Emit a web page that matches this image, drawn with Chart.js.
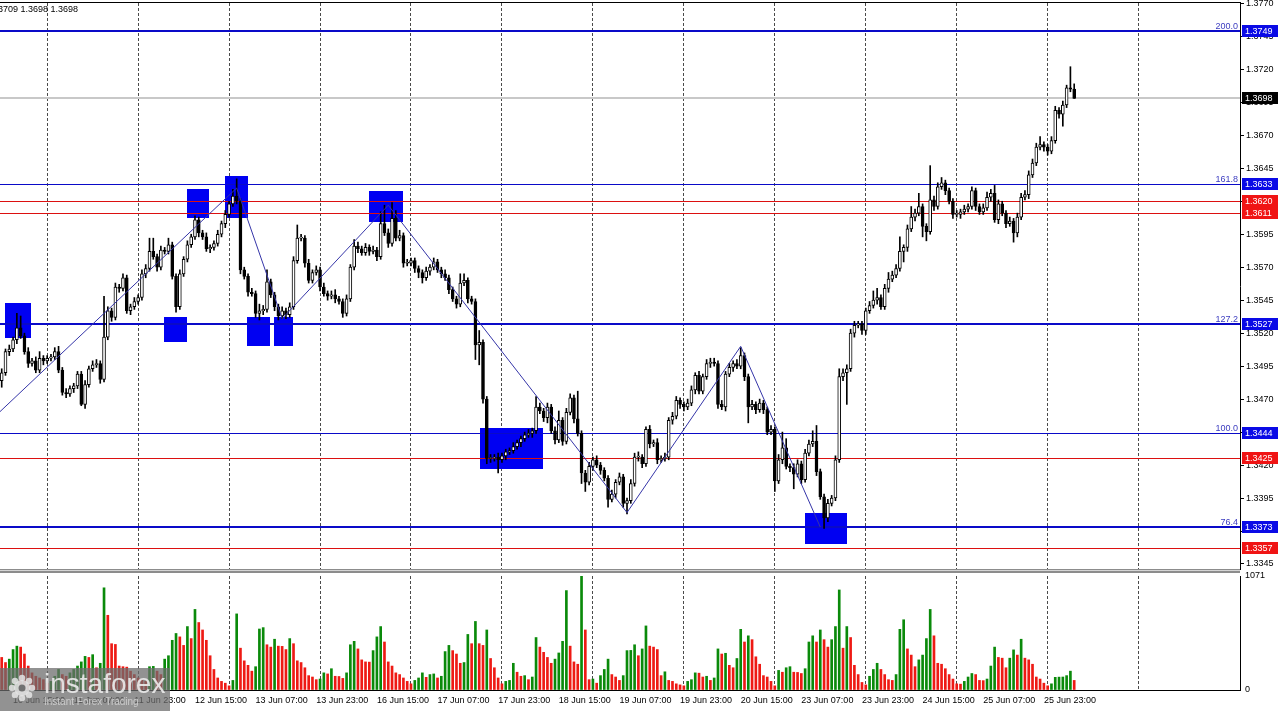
<!DOCTYPE html>
<html>
<head>
<meta charset="utf-8">
<script src="https://cdn.jsdelivr.net/npm/chart.js@4.4.1/dist/chart.umd.min.js"></script>
<style>
  html, body { margin: 0; padding: 0; background: #fff; }
  #wrap { position: relative; width: 1280px; height: 711px; overflow: hidden; }
  #price { position: absolute; left: 0; top: 0; }
  #vol { position: absolute; left: 0; top: 572px; }
</style>
</head>
<body>
<div id="wrap">
  <canvas id="price" width="1280" height="572"></canvas>
  <canvas id="vol" width="1280" height="139"></canvas>
</div>
<script>
// hourly bars, bar 0 = 10 Jun 12:00, last bar = 26 Jun 07:00
const firstOpen = 1.3484;
const closes = [
  1.3490,1.3506,1.3508,1.3515,1.3524,1.3518,1.3506,1.3497,1.3499,1.3492,
  1.3501,1.3499,1.3501,1.3502,1.3506,1.3492,1.3475,1.3474,1.3478,1.3480,
  1.3489,1.3466,1.3481,1.3493,1.3496,1.3497,1.3485,1.3517,1.3537,1.3532,
  1.3555,1.3554,1.3562,1.3537,1.3540,1.3544,1.3547,1.3565,1.3569,1.3582,
  1.3578,1.3570,1.3583,1.3582,1.3587,1.3563,1.3540,1.3565,1.3576,1.3587,
  1.3593,1.3606,1.3596,1.3593,1.3584,1.3585,1.3588,1.3595,1.3603,1.3610,
  1.3618,1.3624,1.3620,1.3568,1.3563,1.3551,1.3550,1.3535,1.3537,1.3538,
  1.3559,1.3549,1.3540,1.3533,1.3537,1.3534,1.3540,1.3575,1.3592,1.3592,
  1.3573,1.3560,1.3566,1.3568,1.3555,1.3550,1.3548,1.3549,1.3546,1.3544,
  1.3535,1.3546,1.3570,1.3586,1.3584,1.3581,1.3585,1.3582,1.3583,1.3578,
  1.3603,1.3596,1.3588,1.3607,1.3592,1.3594,1.3573,1.3573,1.3575,1.3569,
  1.3566,1.3562,1.3567,1.3570,1.3574,1.3568,1.3565,1.3562,1.3553,1.3546,
  1.3542,1.3558,1.3560,1.3546,1.3544,1.3511,1.3513,1.3470,1.3425,1.3425,
  1.3426,1.3424,1.3427,1.3430,1.3431,1.3434,1.3437,1.3440,1.3443,1.3444,
  1.3446,1.3464,1.3461,1.3456,1.3464,1.3446,1.3439,1.3454,1.3438,1.3460,
  1.3471,1.3455,1.3444,1.3414,1.3407,1.3419,1.3424,1.3420,1.3416,1.3410,
  1.3394,1.3398,1.3407,1.3411,1.3391,1.3393,1.3406,1.3426,1.3426,1.3421,
  1.3447,1.3436,1.3437,1.3424,1.3425,1.3426,1.3454,1.3457,1.3469,1.3466,
  1.3464,1.3467,1.3477,1.3488,1.3476,1.3487,1.3497,1.3498,1.3497,1.3466,
  1.3464,1.3489,1.3494,1.3497,1.3495,1.3503,1.3487,1.3464,1.3466,1.3462,
  1.3467,1.3462,1.3445,1.3447,1.3408,1.3424,1.3433,1.3419,1.3418,1.3413,
  1.3421,1.3409,1.3429,1.3436,1.3438,1.3415,1.3396,1.3380,1.3391,1.3395,
  1.3424,1.3487,1.3490,1.3493,1.3520,1.3526,1.3527,1.3522,1.3537,1.3541,
  1.3545,1.3547,1.3540,1.3554,1.3561,1.3564,1.3569,1.3582,1.3585,1.3599,
  1.3608,1.3611,1.3616,1.3601,1.3597,1.3621,1.3616,1.3631,1.3634,1.3628,
  1.3620,1.3610,1.3610,1.3612,1.3614,1.3616,1.3628,1.3616,1.3612,1.3615,
  1.3623,1.3626,1.3606,1.3618,1.3611,1.3603,1.3605,1.3596,1.3608,1.3623,
  1.3625,1.3640,1.3649,1.3661,1.3663,1.3661,1.3658,1.3666,1.3689,1.3686,
  1.3693,1.3706,1.3705,1.3698
];
// wick lengths in pips above / below the body
const upperWicks = [
  3,2,3,2,11,9,2,3,2,3, 5,2,2,2,3,4,2,3,2,2, 2,2,3,2,3,3,2,31,3,2, 3,2,3,2,2,3,2,3,3,10,
  10,2,3,2,5,2,2,3,2,3, 2,3,2,2,3,2,2,3,2,3, 2,5,13,2,2,2,3,2,5,3, 9,2,2,2,3,2,3,3,10,3,
  2,3,2,3,2,3,2,3,4,2, 2,3,2,5,3,2,3,2,3,2, 9,14,3,12,6,4,2,3,2,2, 2,2,3,2,3,2,2,3,2,2,
  2,7,5,2,2,2,9,2,2,3, 2,3,2,2,2,3,2,2,2,3, 2,8,3,2,3,2,3,7,2,3, 3,2,21,2,2,3,2,3,2,2,
  2,3,2,3,2,2,3,3,4,2, 2,3,2,3,2,3,2,3,3,2, 2,3,3,2,3,2,3,3,3,2, 3,2,3,2,3,6,2,2,3,2,
  3,2,2,3,2,4,12,7,2,3, 3,2,3,3,8,12,2,2,3,2, 3,6,3,3,3,3,2,2,2,3, 7,7,2,3,5,3,3,11,2,3,
  8,3,10,2,2,26,3,3,4,2, 2,2,3,2,3,2,3,2,2,3, 4,3,6,3,2,2,3,2,3,3, 3,3,3,3,6,2,2,3,3,2,
  3,2,16,4
];
const lowerWicks = [
  5,2,3,2,3,2,2,3,2,2, 2,3,2,2,2,2,2,3,2,3, 2,1,3,2,2,2,3,2,2,3, 2,3,2,2,3,2,2,2,3,2,
  2,3,2,2,2,2,4,2,2,2, 2,2,3,2,2,3,2,2,2,3, 2,2,2,3,2,3,2,3,5,3, 2,2,3,3,2,3,2,2,2,2,
  3,2,2,2,3,2,3,2,3,2, 3,2,2,2,3,2,2,3,2,3, 2,2,3,2,2,2,3,2,2,3, 4,4,2,3,2,2,3,2,3,2,
  3,2,2,3,2,11,15,3,4,3, 2,10,2,3,2,2,2,3,2,2, 3,2,2,3,4,2,3,2,3,2, 2,3,2,8,7,2,3,2,3,2,
  6,2,3,2,3,8,2,2,3,3, 2,3,2,3,2,2,2,3,2,3, 3,2,2,3,2,2,2,3,2,3, 2,3,2,3,2,2,3,12,2,3,
  2,3,2,2,8,2,3,2,3,11, 2,3,2,2,2,3,2,8,3,2, 2,2,3,24,2,3,2,3,3,2, 2,3,2,2,3,2,2,2,8,3,
  2,3,2,8,7,2,3,2,2,3, 2,3,2,3,2,2,2,3,2,2, 2,3,2,3,2,3,2,7,3,2, 2,3,2,2,2,3,3,2,2,3,
  9,2,2,0
];
const volumes = [
  306,258,290,380,412,403,338,225,161,129, 113,97,64,81,129,193,145,129,161,193,
  225,264,316,306,332,209,251,960,702,435, 428,225,219,215,177,145,113,97,81,219,
  222,177,145,290,322,467,531,499,419,596, 483,757,634,564,467,322,193,113,81,64,
  39,90,715,393,274,232,177,219,573,586, 425,403,477,412,410,380,483,435,274,258,
  209,135,122,97,103,161,151,200,129,127, 109,161,425,457,386,283,264,262,370,499,
  596,451,264,225,161,145,113,81,58,90, 113,161,119,145,151,113,129,361,419,370,
  338,251,258,522,435,644,435,419,564,296, 209,113,58,81,90,251,167,129,135,97,
  122,493,403,354,306,251,290,348,457,934, 412,264,242,1071,564,97,103,64,135,193,
  290,145,122,90,135,370,372,425,322,386, 602,412,403,380,135,171,90,81,58,48,
  39,81,97,161,158,122,129,90,113,386, 338,345,232,209,296,570,451,509,473,312,
  242,135,122,81,39,184,167,209,219,167, 165,155,200,451,509,451,564,473,403,473,
  596,940,393,596,493,232,145,71,48,129, 193,251,193,145,97,90,145,570,660,386,
  328,219,283,328,483,757,509,251,242,200, 145,103,58,55,81,122,155,145,90,88,
  103,225,403,306,299,209,299,377,328,477, 299,283,242,122,103,64,39,58,119,121,
  122,135,177,90
];

const tickBars = [3,19,35,51,67,83,99,115,131,147,163,179,195,211,227,243,259,275];
const tickLabels = ["10 Jun 15:00","11 Jun 07:00","11 Jun 23:00","12 Jun 15:00","13 Jun 07:00",
  "13 Jun 23:00","16 Jun 15:00","17 Jun 07:00","17 Jun 23:00","18 Jun 15:00","19 Jun 07:00",
  "19 Jun 23:00","20 Jun 15:00","23 Jun 07:00","23 Jun 23:00","24 Jun 15:00","25 Jun 07:00","25 Jun 23:00"];
const dayStarts = [12,36,60,84,108,132,156,180,204,228,252,276,300];
const priceTicks = [1.3345,1.3370,1.3395,1.3420,1.3445,1.3470,1.3495,1.3520,1.3545,
  1.3570,1.3595,1.3620,1.3645,1.3670,1.3695,1.3720,1.3745,1.3770];
const volumeTicks = [0, 1071];

const blueLevels = [1.3749, 1.3633, 1.3527, 1.3444, 1.3373];
const fibLabels = ["200.0", "161.8", "127.2", "100.0", "76.4"];
const redLevels = [1.3620, 1.3611, 1.3425, 1.3357];
const lastPrice = 1.3698;
const headerText = "1.3705 1.3709 1.3698 1.3698";

const zigzagBars = [-1, 62, 74, 102, 165, 195, 216];
const zigzagPrices = [1.3459, 1.3630, 1.3531, 1.3617, 1.3384, 1.3510, 1.3373];

// [start bar, end bar, low price, high price]
const zones = [
  [0.9, 7.7, 1.3516, 1.3543],
  [42.8, 48.9, 1.3513, 1.3532],
  [48.9, 54.7, 1.3607, 1.3629],
  [58.9, 65.0, 1.3607, 1.3639],
  [64.7, 70.8, 1.3510, 1.3532],
  [71.9, 76.9, 1.3510, 1.3532],
  [96.9, 105.9, 1.3604, 1.3628],
  [126.2, 142.8, 1.3417, 1.3448],
  [211.9, 223.0, 1.3360, 1.3384]
];

Chart.defaults.font.family = '"Liberation Sans", Arial, sans-serif';
Chart.defaults.font.size = 9;

const xMin = -0.45, xMax = 326.75;
const FONT = '9px "Liberation Sans", Arial, sans-serif';

const opens = closes.map((c, i) => i === 0 ? firstOpen : closes[i - 1]);
const bodies = closes.map((c, i) => ({ x: i, y: [opens[i], c] }));
const wicks = closes.map((c, i) => ({
  x: i,
  y: [Math.min(opens[i], c) - lowerWicks[i] / 10000, Math.max(opens[i], c) + upperWicks[i] / 10000]
}));
const bodyColors = closes.map((c, i) => c >= opens[i] ? '#ffffff' : '#000000');
const zigzag = zigzagBars.map((b, k) => ({ x: b, y: zigzagPrices[k] }));
const volData = volumes.map((v, i) => ({ x: i, y: v }));
const volColors = volumes.map((v, i) => (i > 0 && v > volumes[i - 1]) ? '#0a8a0a' : '#ee1a14');

function hline(ctx, a, py, color, w) {
  const y = w === 1 ? Math.round(py) + 0.5 : Math.round(py);
  ctx.strokeStyle = color;
  ctx.lineWidth = w;
  ctx.beginPath();
  ctx.moveTo(a.left, y);
  ctx.lineTo(a.right, y);
  ctx.stroke();
}

const priceDecor = {
  id: 'priceDecor',
  beforeDatasetsDraw(chart) {
    const { ctx, chartArea: a, scales: { x, y } } = chart;
    ctx.save();
    ctx.beginPath();
    ctx.rect(a.left, a.top, a.right - a.left, a.bottom - a.top);
    ctx.clip();
    ctx.fillStyle = '#0000f2';
    zones.forEach(z => {
      const x1 = Math.round(x.getPixelForValue(z[0])), x2 = Math.round(x.getPixelForValue(z[1]));
      const y1 = Math.round(y.getPixelForValue(z[3])), y2 = Math.round(y.getPixelForValue(z[2]));
      ctx.fillRect(x1, y1, x2 - x1, y2 - y1);
    });
    hline(ctx, a, y.getPixelForValue(lastPrice), '#c8c8c8', 2);
    redLevels.forEach(v => hline(ctx, a, y.getPixelForValue(v), '#dc1010', 1));
    blueLevels.forEach((v, k) => hline(ctx, a, y.getPixelForValue(v), '#0a0ac8', k % 2 === 0 ? 2 : 1));
    ctx.restore();
  },
  afterDraw(chart) {
    const { ctx, chartArea: a, scales: { y } } = chart;
    ctx.save();
    // frame
    ctx.fillStyle = '#000';
    ctx.fillRect(0, a.top - 1, a.right + 1, 1);
    ctx.fillStyle = '#8c8c8c';
    ctx.fillRect(0, a.bottom, a.right, 3);
    ctx.fillStyle = '#d4d4d4';
    ctx.fillRect(0, a.bottom + 1, a.right, 1);

    ctx.font = FONT;
    // fibo level captions
    ctx.fillStyle = '#3c3cc0';
    ctx.textAlign = 'right';
    ctx.textBaseline = 'alphabetic';
    blueLevels.forEach((v, k) => {
      ctx.fillText(fibLabels[k], a.right - 2, Math.round(y.getPixelForValue(v)) - 2);
    });
    // price tags on the axis
    const tag = (v, bg) => {
      const py = Math.round(y.getPixelForValue(v));
      ctx.fillStyle = bg;
      ctx.fillRect(a.right + 2, py - 6, 36, 12);
      ctx.fillStyle = '#fff';
      ctx.textAlign = 'left';
      ctx.textBaseline = 'middle';
      ctx.fillText(v.toFixed(4), a.right + 5, py + 0.5);
    };
    blueLevels.forEach(v => tag(v, '#0a0ae6'));
    redLevels.forEach(v => tag(v, '#f01414'));
    tag(lastPrice, '#000');

    // header (cut at the left edge like the terminal)
    ctx.fillStyle = '#000';
    ctx.textAlign = 'right';
    ctx.textBaseline = 'middle';
    ctx.fillText(headerText, 78, 10);
    ctx.restore();
  }
};

const volDecor = {
  id: 'volDecor',
  afterDraw(chart) {
    const { ctx, chartArea: a } = chart;
    ctx.save();
    ctx.fillStyle = '#8c8c8c';
    ctx.fillRect(0, 0, a.right, 1);
    ctx.fillStyle = '#000';
    ctx.fillRect(0, Math.round(a.bottom), a.right + 1, 1);

    // watermark
    ctx.fillStyle = 'rgba(108,108,108,0.74)';
    ctx.fillRect(0, 96, 170, 43);
    ctx.fillStyle = 'rgba(228,228,228,0.85)';
    for (let k = 0; k < 8; k++) {
      const ang = k * Math.PI / 4;
      ctx.beginPath();
      ctx.arc(22 + Math.cos(ang) * 10, 116 + Math.sin(ang) * 10, 3.2, 0, Math.PI * 2);
      ctx.fill();
    }
    ctx.beginPath();
    ctx.arc(22, 116, 8, 0, Math.PI * 2);
    ctx.fill();
    ctx.fillStyle = 'rgba(108,108,108,0.95)';
    ctx.beginPath();
    ctx.arc(22, 116, 3.5, 0, Math.PI * 2);
    ctx.fill();
    ctx.fillStyle = 'rgba(236,236,236,0.9)';
    ctx.textAlign = 'left';
    ctx.textBaseline = 'alphabetic';
    ctx.font = '28px "Liberation Sans", Arial, sans-serif';
    ctx.fillText('instaforex', 44, 121);
    ctx.font = '10px "Liberation Sans", Arial, sans-serif';
    ctx.fillStyle = 'rgba(214,214,214,0.85)';
    ctx.fillText('Instant Forex Trading', 44, 133);
    ctx.restore();
  }
};

const gridAxis = {
  type: 'linear', min: xMin, max: xMax, offset: false,
  grid: { color: '#4a4a4a', lineWidth: 1, drawTicks: false, offset: false },
  border: { display: false, dash: [3, 2] },
  ticks: { display: false },
  afterBuildTicks: s => { s.ticks = dayStarts.map(v => ({ value: v })); },
  afterFit: s => { s.height = 0; s.paddingLeft = 0; s.paddingRight = 0; }
};

new Chart(document.getElementById('price'), {
  type: 'bar',
  data: {
    datasets: [
      { type: 'line', data: zigzag, borderColor: '#3535a8', borderWidth: 1, pointRadius: 0, tension: 0, order: 0 },
      { data: bodies, backgroundColor: bodyColors, borderColor: '#000', borderWidth: 1, borderSkipped: false,
        barThickness: 3, minBarLength: 1, grouped: false, order: 1 },
      { data: wicks, backgroundColor: '#000', barThickness: 1, grouped: false, order: 2 }
    ]
  },
  options: {
    responsive: false,
    animation: false,
    events: [],
    layout: { padding: { top: 3, bottom: 3, left: 0, right: 0 } },
    plugins: { legend: { display: false }, tooltip: { enabled: false } },
    scales: {
      x: gridAxis,
      y: {
        position: 'right', min: 1.33412, max: 1.37703,
        grid: { drawOnChartArea: false, color: '#000', tickLength: 4 },
        border: { display: true, color: '#000' },
        ticks: { color: '#000', padding: 2, callback: v => v.toFixed(4) },
        afterBuildTicks: s => { s.ticks = priceTicks.map(v => ({ value: v })); },
        afterFit: s => { s.width = 40; s.paddingTop = 0; s.paddingBottom = 0; }
      }
    }
  },
  plugins: [priceDecor]
});

new Chart(document.getElementById('vol'), {
  type: 'bar',
  data: {
    datasets: [
      { data: volData, backgroundColor: volColors, barThickness: 2, grouped: false }
    ]
  },
  options: {
    responsive: false,
    animation: false,
    events: [],
    layout: { padding: { top: 4, bottom: 0, left: 0, right: 0 } },
    plugins: { legend: { display: false }, tooltip: { enabled: false } },
    scales: {
      x: Object.assign({}, gridAxis),
      xt: {
        type: 'linear', position: 'bottom', min: xMin, max: xMax, offset: false,
        grid: { display: false, drawTicks: false },
        border: { display: false },
        ticks: { align: 'start', autoSkip: false, maxRotation: 0, minRotation: 0, color: '#000', padding: 5,
          callback: (v, idx) => tickLabels[idx] },
        afterBuildTicks: s => { s.ticks = tickBars.map(v => ({ value: v })); },
        afterFit: s => { s.height = 21; s.paddingLeft = 0; s.paddingRight = 0; }
      },
      y: {
        position: 'right', min: 0, max: 1071,
        grid: { drawOnChartArea: false, drawTicks: false },
        border: { display: true, color: '#000' },
        ticks: { color: '#000', padding: 5, callback: v => String(v) },
        afterBuildTicks: s => { s.ticks = volumeTicks.map(v => ({ value: v })); },
        afterFit: s => { s.width = 40; s.paddingTop = 0; s.paddingBottom = 0; }
      }
    }
  },
  plugins: [volDecor]
});
</script>
</body>
</html>
